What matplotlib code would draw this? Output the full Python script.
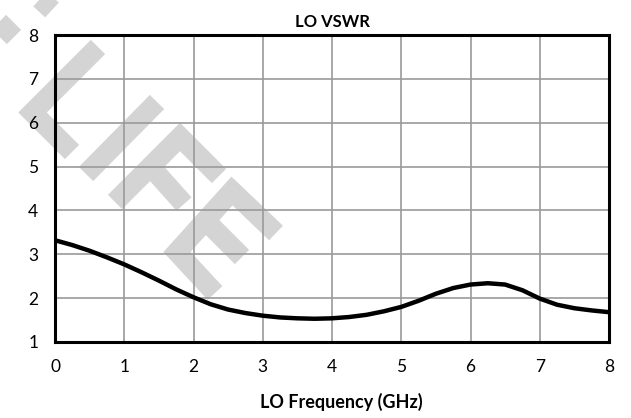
import matplotlib
matplotlib.use('Agg')
import matplotlib.pyplot as plt

plt.rcParams['font.family'] = ['Lato', 'DejaVu Sans']

# LO VSWR vs LO frequency
freq_ghz = [0, 0.25, 0.5, 0.75, 1, 1.25, 1.5, 1.75, 2, 2.25, 2.5, 2.75, 3, 3.25, 3.5, 3.75,
            4, 4.25, 4.5, 4.75, 5, 5.25, 5.5, 5.75, 6, 6.25, 6.5, 6.75, 7, 7.25, 7.5, 7.75, 8]
vswr = [3.32, 3.21, 3.08, 2.93, 2.77, 2.59, 2.40, 2.20, 2.02, 1.86, 1.74, 1.66, 1.60, 1.56, 1.54, 1.53,
        1.54, 1.57, 1.62, 1.70, 1.80, 1.94, 2.10, 2.23, 2.31, 2.34, 2.31, 2.18, 1.99, 1.85, 1.77, 1.72, 1.68]

x_ticks = [0, 1, 2, 3, 4, 5, 6, 7, 8]
y_ticks = [1, 2, 3, 4, 5, 6, 7, 8]

fig = plt.figure(figsize=(6.31, 4.18), dpi=100)

# watermark ("...OF LIFE") behind the plot, in pixel coords of the figure
bg = fig.add_axes([0, 0, 1, 1], zorder=0)
bg.set_xlim(0, 631)
bg.set_ylim(418, 0)
bg.axis('off')
wm = dict(color='#d4d4d4', lw=14.5, solid_capstyle='butt', solid_joinstyle='miter')
strokes = [
    [(25, -15), (52, 10)],
    [(-12, 11), (14, 37)],
    [(98, 47), (32.5, 112.5), (72, 152)],       # L
    [(157, 102), (86, 174)],                    # I
    [(115, 202), (180, 137), (219, 176)],       # F
    [(150.5, 166.5), (184, 204)],
    [(276, 233), (232, 191), (177, 252), (215, 293)],  # E
    [(207, 222), (242, 257)],
]
for s in strokes:
    bg.plot([p[0] for p in s], [p[1] for p in s], **wm)

ax = fig.add_axes([55/631, 76/418, 554/631, 307/418], zorder=1)
ax.set_facecolor('none')
ax.plot(freq_ghz, vswr, color='black', lw=3.2, zorder=3)

ax.set_xlim(0, 8)
ax.set_ylim(1, 8)
ax.set_xticks(x_ticks)
ax.set_yticks(y_ticks)
ax.grid(True, color='#9a9a9a', lw=1.2)
ax.set_axisbelow(True)
ax.tick_params(length=0, labelsize=12.5, pad=12)
for sp in ax.spines.values():
    sp.set_linewidth(2.2)
    sp.set_color('black')

ax.set_title('LO VSWR', fontsize=12, fontweight='bold', pad=6)
ax.set_xlabel('LO Frequency (GHz)', fontsize=13, fontweight='bold', labelpad=14)
ax.xaxis.set_label_coords(0.516, -0.165)

fig.savefig('out.png', dpi=100)
